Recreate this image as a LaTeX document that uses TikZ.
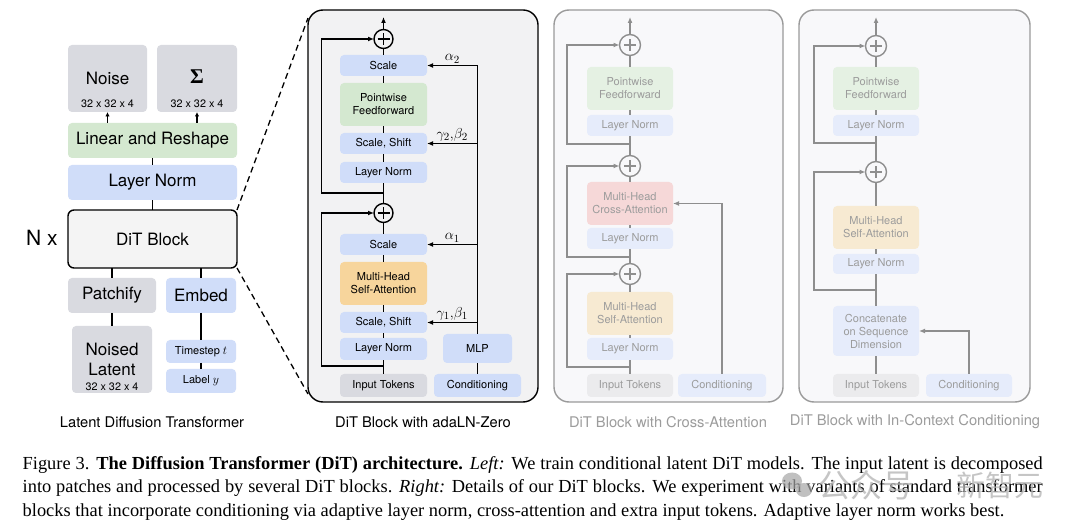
\documentclass[tikz,border=0pt]{standalone}
\usepackage{fontspec}
\setmainfont{Liberation Serif}
\newfontfamily\hv{TeX Gyre Heros}
\newfontfamily\cjk{Noto Sans CJK SC}
\usetikzlibrary{arrows.meta,calc}
\definecolor{cgray}{HTML}{D9DAE0}
\definecolor{cgreen}{HTML}{D4E8D0}
\definecolor{cblue}{HTML}{D0DDF9}
\definecolor{corange}{HTML}{F7D59C}
\definecolor{cditfill}{HTML}{F4F4F4}
\definecolor{cadafill}{HTML}{F2F2F3}
\definecolor{fgray}{HTML}{EBEBED}
\definecolor{fgreen}{HTML}{E5F1E3}
\definecolor{fblue}{HTML}{E6ECFB}
\definecolor{forange}{HTML}{F7EAD2}
\definecolor{fpink}{HTML}{F6D8D8}
\definecolor{fboxfill}{HTML}{F8F8FA}
\definecolor{flinec}{HTML}{8E8E8E}
\definecolor{ftext}{HTML}{9C9C9C}
\definecolor{fborder}{HTML}{9A9A9A}
\newcommand\boxn[7]{\node[#1, minimum width={#5-#3}, minimum height={#6-#4}] (#2) at ({(#3+#5)/2},{(#4+#6)/2}) {#7};}
\begin{document}
\begin{tikzpicture}[x=1pt,y=-1pt,
  bx/.style={rectangle, rounded corners=4pt, inner sep=1pt, outer sep=0pt, align=center},
  gb/.style={bx, fill=cgray},
  greenb/.style={bx, fill=cgreen},
  blueb/.style={bx, fill=cblue},
  orangeb/.style={bx, fill=corange},
  fgrayb/.style={bx, fill=fgray},
  fgreenb/.style={bx, fill=fgreen},
  fblueb/.style={bx, fill=fblue},
  forangeb/.style={bx, fill=forange},
  fpinkb/.style={bx, fill=fpink},
  bigt/.style={font=\hv\fontsize{17}{20}\selectfont},
  smt/.style={font=\hv\fontsize{11}{13}\selectfont},
  fsmt/.style={font=\hv\fontsize{11}{13}\selectfont, text=ftext},
  tinyt/.style={font=\hv\fontsize{10.8}{13}\selectfont, inner sep=0pt},
  capt/.style={font=\hv\fontsize{14.7}{17}\selectfont, inner sep=0pt},
  glab/.style={font=\fontsize{15}{17}\selectfont, inner sep=1.5pt},
  ditb/.style={bx, draw=black, line width=1.4pt, fill=cditfill, rounded corners=6pt, bigt},
  adab/.style={rectangle, draw=black, line width=1.4pt, fill=cadafill, rounded corners=15pt, outer sep=0pt, inner sep=0pt},
  fbig/.style={rectangle, draw=fborder, line width=1.4pt, fill=fboxfill, rounded corners=15pt, outer sep=0pt, inner sep=0pt},
  plusc/.style={circle, draw=#1, line width=1.4pt, minimum size=19pt, inner sep=0pt, outer sep=0pt,
    path picture={\draw[line width=1.3pt,#1] ([xshift=-6pt]path picture bounding box.center) -- ([xshift=6pt]path picture bounding box.center);
      \draw[line width=1.3pt,#1] ([yshift=-6pt]path picture bounding box.center) -- ([yshift=6pt]path picture bounding box.center);}},
  fplus/.style={plusc=flinec, minimum size=21pt},
  cline/.style={line width=1.7pt, black},
  arr/.style={cline, -{Latex[length=6pt,width=5pt]}},
  sarr/.style={cline, -{Latex[length=4.5pt,width=4.5pt]}},
  fln/.style={line width=1.6pt, flinec},
  farr/.style={fln, -{Latex[length=6pt,width=5pt]}},
  dsh/.style={line width=1.3pt, black, dash pattern=on 6pt off 4pt}
]
\fill[white] (0,0) rectangle (1080,529);
\useasboundingbox (0,0) rectangle (1080,529);

% ---------------- Left: Latent Diffusion Transformer
\boxn{gb}{noise}{68}{45}{147}{112}{}
\node[bigt, inner sep=0pt] (noiset) at (107.5,78) {Noise};
\node[tinyt] (noised) at (107.5,104) {32 x 32 x 4};
\boxn{gb}{sigma}{157}{45}{237}{112}{}
\node[font=\fontsize{21}{24}\selectfont\bfseries, inner sep=0pt] (sigt) at (197,77) {Σ};
\node[tinyt] (sigd) at (197,104) {32 x 32 x 4};
\boxn{greenb,bigt}{lin}{68}{123}{237}{158}{Linear and Reshape}
\boxn{blueb,bigt}{lnl}{68}{165}{237}{200}{Layer Norm}
\boxn{ditb}{dit}{68}{210}{237}{268}{DiT Block}
\node[font=\hv\fontsize{21}{24}\selectfont, inner sep=0pt] (nx) at (42,238) {N x};
\boxn{gb,bigt}{patch}{68}{278}{156}{313}{Patchify}
\boxn{blueb,bigt}{embed}{166}{278}{236}{313}{Embed}
\boxn{gb}{nl}{72}{326}{152}{393}{}
\node[bigt, inner sep=0pt] (nlt1) at (112,349) {Noised};
\node[bigt, inner sep=0pt] (nlt2) at (112,369) {Latent};
\node[tinyt] (nlt3) at (112,387) {32 x 32 x 4};
\boxn{blueb,smt}{ts}{166}{340}{236}{363}{Timestep {\fontsize{12.5}{13}\selectfont$t$}}
\boxn{blueb,smt}{lab}{166}{369}{236}{393}{Label {\fontsize{12.5}{13}\selectfont$y$}}
\node[capt] (cap1) at (152,422) {Latent Diffusion Transformer};

\draw[sarr] (noise.south |- lin.north) -- (noise.south);
\draw[sarr] (sigma.south |- lin.north) -- (sigma.south);
\draw[cline] (lnl.north) -- (lin.south);
\draw[cline] (dit.north) -- (lnl.south);
\draw[cline] (patch.north) -- (patch.north |- dit.south);
\draw[cline] (embed.north) -- (embed.north |- dit.south);
\draw[cline] (patch.south) -- (nl.north);
\draw[cline] (embed.south) -- (ts.north);
\draw[cline] (ts.south) -- (lab.north);

% ---------------- DiT block with adaLN-Zero
\boxn{adab}{ada}{308}{10}{538}{402}{}
\draw[dsh] (dit.north east) -- ($(ada.north west)+(0,8)$);
\draw[dsh] (dit.south east) -- ($(ada.south west)+(0,-8)$);
\node[plusc=black] (ap2) at (383.5,39) {};
\boxn{blueb,smt}{asc2}{340}{55}{427}{76}{Scale}
\boxn{greenb,smt}{apff}{340}{83}{427}{126}{Pointwise\\Feedforward}
\boxn{blueb,smt}{ass2}{340}{133}{427}{154}{Scale, Shift}
\boxn{blueb,smt}{aln2}{340}{162}{427}{183}{Layer Norm}
\node[plusc=black] (ap1) at (383.5,213) {};
\boxn{blueb,smt}{asc1}{340}{234}{427}{255}{Scale}
\boxn{orangeb,smt}{amh}{340}{262}{427}{305}{Multi-Head\\Self-Attention}
\boxn{blueb,smt}{ass1}{340}{312}{427}{333}{Scale, Shift}
\boxn{blueb,smt}{aln1}{340}{338}{427}{360}{Layer Norm}
\boxn{gb,smt}{ain}{340}{374}{427}{397}{Input Tokens}
\boxn{blueb,smt}{amlp}{443}{334}{512}{363}{MLP}
\boxn{blueb,smt}{acond}{434}{374}{521}{397}{Conditioning}
\node[capt] (cap2) at (423,422) {DiT Block with adaLN-Zero};

\coordinate (aout) at (383.5,17);
\draw[arr] (ap2.north) -- (aout);
\draw[cline] (asc2.north) -- (ap2.south);
\draw[cline] (apff.north) -- (asc2.south);
\draw[cline] (ass2.north) -- (apff.south);
\draw[cline] (aln2.north) -- (ass2.south);
\draw[cline] (ap1.north) -- (aln2.south);
\coordinate (ar2) at (383.5,193);
\draw[arr] (ar2) -- ++(-62,0) |- (ap2.west);
\draw[cline] (asc1.north) -- (ap1.south);
\draw[cline] (amh.north) -- (asc1.south);
\draw[cline] (ass1.north) -- (amh.south);
\draw[cline] (aln1.north) -- (ass1.south);
\draw[cline] (ain.north) -- (aln1.south);
\coordinate (ar1) at (383.5,366);
\draw[arr] (ar1) -- ++(-62,0) |- (ap1.west);
\draw[cline] (acond.north) -- (amlp.south);
\draw[arr] (amlp.north) |- node[pos=0.75, above, glab] {$\alpha_2$} (asc2.east);
\draw[arr] (amlp.north |- ass2.east) -- node[midway, above, glab] {$\gamma_2,\!\beta_2$} (ass2.east);
\draw[arr] (amlp.north |- asc1.east) -- node[midway, above, glab] {$\alpha_1$} (asc1.east);
\draw[arr] (amlp.north |- ass1.east) -- node[midway, above, glab] {$\gamma_1,\!\beta_1$} (ass1.east);

% ---------------- DiT block with Cross-Attention (faded)
\boxn{fbig}{cab}{554}{10}{783}{402}{}
\node[fplus] (cp1) at (630,45) {};
\boxn{fgreenb,fsmt}{cpff}{587}{67}{673}{110}{Pointwise\\Feedforward}
\boxn{fblueb,fsmt}{cln3}{587}{115}{673}{136}{Layer Norm}
\node[fplus] (cp2) at (630,166) {};
\boxn{fpinkb,fsmt}{cca}{587}{182}{673}{225}{Multi-Head\\Cross-Attention}
\boxn{fblueb,fsmt}{cln2}{587}{228}{673}{249}{Layer Norm}
\node[fplus] (cp3) at (630,274) {};
\boxn{forangeb,fsmt}{csa}{587}{292}{673}{335}{Multi-Head\\Self-Attention}
\boxn{fblueb,fsmt}{cln1}{587}{338}{673}{360}{Layer Norm}
\boxn{fgrayb,fsmt}{cin}{587}{374}{673}{397}{Input Tokens}
\boxn{fblueb,fsmt}{ccond}{678}{374}{766}{397}{Conditioning}
\node[capt, text=ftext] (cap3) at (668,422) {DiT Block with Cross-Attention};

\coordinate (cout) at (630,17);
\draw[farr] (cp1.north) -- (cout);
\draw[fln] (cpff.north) -- (cp1.south);
\draw[fln] (cln3.north) -- (cpff.south);
\draw[fln] (cp2.north) -- (cln3.south);
\coordinate (cr3) at (630,144);
\draw[farr] (cr3) -- ++(-63,0) |- (cp1.west);
\draw[fln] (cca.north) -- (cp2.south);
\draw[fln] (cln2.north) -- (cca.south);
\draw[fln] (cp3.north) -- (cln2.south);
\coordinate (cr2) at (630,257);
\draw[farr] (cr2) -- ++(-63,0) |- (cp2.west);
\draw[fln] (csa.north) -- (cp3.south);
\draw[fln] (cln1.north) -- (csa.south);
\draw[fln] (cin.north) -- (cln1.south);
\coordinate (cr1) at (630,367);
\draw[farr] (cr1) -- ++(-63,0) |- (cp3.west);
\draw[farr] (ccond.north) |- (cca.east);

% ---------------- DiT block with In-Context Conditioning (faded)
\boxn{fbig}{icb}{799}{10}{1030}{402}{}
\node[fplus] (ip1) at (876,46) {};
\boxn{fgreenb,fsmt}{ipff}{833}{67}{919}{110}{Pointwise\\Feedforward}
\boxn{fblueb,fsmt}{iln2}{833}{115}{919}{136}{Layer Norm}
\node[fplus] (ip2) at (876,172) {};
\boxn{forangeb,fsmt}{isa}{833}{206}{919}{249}{Multi-Head\\Self-Attention}
\boxn{fblueb,fsmt}{iln1}{833}{254}{919}{274}{Layer Norm}
\boxn{fblueb,fsmt}{icat}{833}{306}{919}{356}{Concatenate\\on Sequence\\Dimension}
\boxn{fgrayb,fsmt}{iin}{833}{374}{919}{397}{Input Tokens}
\boxn{fblueb,fsmt}{icond}{926}{374}{1012}{397}{Conditioning}
\node[capt, text=ftext] (cap4) at (915,422) {DiT Block with In-Context Conditioning};

\coordinate (iout) at (876,17);
\draw[farr] (ip1.north) -- (iout);
\draw[fln] (ipff.north) -- (ip1.south);
\draw[fln] (iln2.north) -- (ipff.south);
\draw[fln] (ip2.north) -- (iln2.south);
\coordinate (ir2) at (876,143);
\draw[farr] (ir2) -- ++(-62,0) |- (ip1.west);
\draw[fln] (isa.north) -- (ip2.south);
\draw[fln] (iln1.north) -- (isa.south);
\draw[fln] (icat.north) -- (iln1.south);
\coordinate (ir1) at (876,290);
\draw[farr] (ir1) -- ++(-62,0) |- (ip2.west);
\draw[fln] (iin.north) -- (icat.south);
\draw[farr] (icond.north) |- (icat.east);

% ---------------- Figure caption
\begin{scope}[every node/.style={anchor=base west, inner sep=0pt, font=\fontsize{18.4}{23}\selectfont}]
\node (fl1) at (22.5,469) {\makebox[1020pt][s]{Figure 3. \textbf{The Diffusion Transformer (DiT) architecture.} \textit{Left:} We train conditional latent DiT models. The input latent is decomposed}};
\node (fl2) at (22.5,493) {\makebox[1020pt][s]{into patches and processed by several DiT blocks. \textit{Right:} Details of our DiT blocks. We experiment with variants of standard transformer}};
\node (fl3) at (22.5,516) {blocks that incorporate conditioning via adaptive layer norm, cross-attention and extra input tokens. Adaptive layer norm works best.};
\end{scope}

% ---------------- watermark
\fill[black!35, opacity=0.7] (792,481) ellipse [x radius=10, y radius=8.5];
\fill[black!35, opacity=0.7] (804,490) ellipse [x radius=8, y radius=7];
\node[font=\cjk\fontsize{32}{34}\selectfont, text=black!30, opacity=0.75, inner sep=0pt] (wm1) at (866,485) {公众号};
\node[font=\cjk\fontsize{29}{32}\selectfont, text=black!30, opacity=0.75, inner sep=0pt] (wm2) at (1000,485) {新智元};
\end{tikzpicture}
\end{document}
